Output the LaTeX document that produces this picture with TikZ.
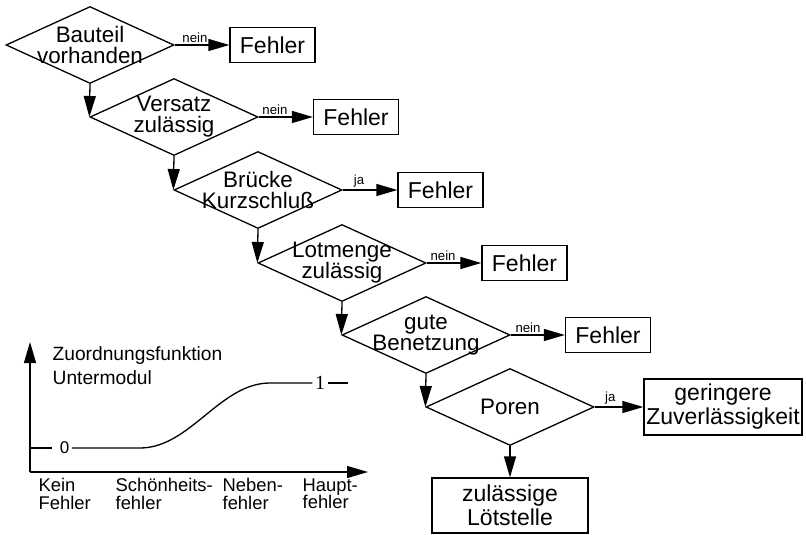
\documentclass[tikz,border=0pt]{standalone}
\usepackage{fontspec}
\setmainfont{Liberation Sans}
\newfontfamily\zahlfont{Liberation Serif}
\usetikzlibrary{shapes.geometric,arrows.meta}

\tikzset{
  frage/.style={draw, diamond, minimum width=84pt, minimum height=38.5pt, inner sep=0pt},
  fragetext/.style={align=center, inner sep=0pt, font=\fontsize{11.2}{10.5}\selectfont},
  kasten/.style={draw, rectangle, minimum width=42.5pt, minimum height=17.5pt, inner sep=1pt, align=center, font=\fontsize{11.5}{12}\selectfont},
  pfeil/.style={-{Triangle[length=10.5pt,width=6pt]}},
  antwort/.style={above, inner sep=1pt, font=\fontsize{6.6}{7}\selectfont},
  achsentext/.style={anchor=north west, align=left, inner sep=0pt, font=\fontsize{9.2}{8.8}\selectfont},
  zahl/.style={inner sep=1pt, font=\zahlfont\fontsize{10}{10}\selectfont}
}

\begin{document}
\lineskiplimit=-10pt
\begin{tikzpicture}[x=0.5pt, y=-0.5pt, line width=0.65pt]
      \useasboundingbox (0,0) rectangle (806,534);
      \node [frage, label={[fragetext]center:Bauteil\\vorhanden}] (bauteil) at (90,45) {};
      \node [frage, label={[fragetext]center:Versatz\\zulässig}] (versatz) at (174,117) {};
      \node [frage, label={[fragetext]center:Brücke\\Kurzschluß}] (bruecke) at (258,190) {};
      \node [frage, label={[fragetext]center:Lotmenge\\zulässig}] (lotmenge) at (342,263) {};
      \node [frage, label={[fragetext]center:gute\\Benetzung}] (benetzung) at (426,335) {};
      \node [frage, label={[fragetext]center:Poren}] (poren) at (510,407) {};
      \node [kasten] (f1) at (272.5,45) {Fehler};
      \node [kasten] (f2) at (356,117) {Fehler};
      \node [kasten] (f3) at (440.5,190) {Fehler};
      \node [kasten] (f4) at (524.5,263) {Fehler};
      \node [kasten] (f5) at (608,335) {Fehler};
      \node [kasten, minimum width=79pt, minimum height=28pt] (gering) at (723,407) {geringere\\Zuverlässigkeit};
      \node [kasten, minimum width=78pt, minimum height=27.5pt] (ok) at (510,505.5) {zulässige\\Lötstelle};
      \draw [pfeil] (bauteil.south) to (versatz.west);
      \draw [pfeil] (versatz.south) to (bruecke.west);
      \draw [pfeil] (bruecke.south) to (lotmenge.west);
      \draw [pfeil] (lotmenge.south) to (benetzung.west);
      \draw [pfeil] (benetzung.south) to (poren.west);
      \draw [pfeil] (poren.south) to (ok.north);
      \draw [pfeil] (bauteil.east) to node [antwort, pos=0.37] {nein} (f1.west);
      \draw [pfeil] (versatz.east) to node [antwort, pos=0.3] {nein} (f2.west);
      \draw [pfeil] (bruecke.east) to node [antwort, pos=0.3] {ja} (f3.west);
      \draw [pfeil] (lotmenge.east) to node [antwort, pos=0.3] {nein} (f4.west);
      \draw [pfeil] (benetzung.east) to node [antwort, pos=0.32] {nein} (f5.west);
      \draw [pfeil] (poren.east) to node [antwort, pos=0.32] {ja} (gering.west);
      \coordinate (ursprung) at (30,472);
      \coordinate (yende) at (30,342);
      \coordinate (xende) at (368,472);
      \coordinate (rechts) at (348,383);
      \draw [pfeil] (ursprung) to (yende);
      \draw [pfeil] (ursprung) to (xende);
      \node [achsentext, font=\fontsize{9.6}{12}\selectfont] (titel) at (52,346) {Zuordnungsfunktion\\Untermodul};
      \node [zahl, font=\fontsize{8.5}{8.5}\selectfont] (null) at (64.5,448) {0};
      \node [zahl] (eins) at (320,383) {1};
      \draw (ursprung |- null.west) to ([xshift=-2.5pt]null.west);
      \draw (null.east) -- (140,448) .. controls (190,448) and (220,383) .. (270,383) -- (eins.west);
      \draw (eins.east) to (rechts);
      \node [achsentext] (kein) at (38,478) {Kein\\Fehler};
      \node [achsentext] (schoen) at (115,478) {Schönheits-\\fehler};
      \node [achsentext] (neben) at (222,478) {Neben-\\fehler};
      \node [achsentext] (haupt) at (302,478) {Haupt-\\fehler};
    \end{tikzpicture}
\end{document}
